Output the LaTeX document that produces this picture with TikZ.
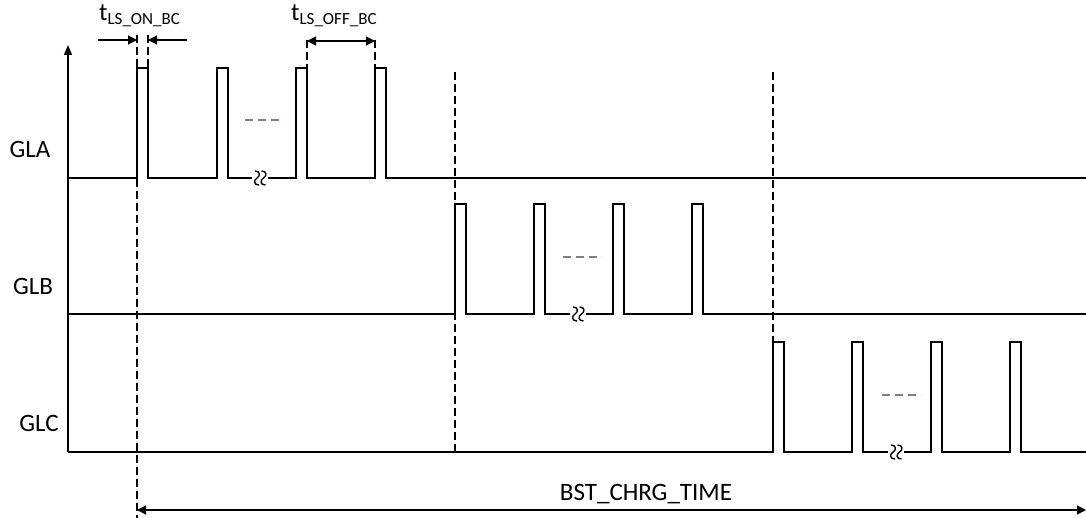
\documentclass[tikz,border=0pt]{standalone}
\usepackage{fontspec}
\setmainfont{Carlito}
\usetikzlibrary{arrows.meta}
\newcommand{\glwave}[7]{%
  % #1 base y, #2 high y, #3..#6 pulse x, #7 break centre
  \draw[wave] (68,#1) -- (#3,#1) -- (#3,#2) -- ++(11,0) -- (#3+11,#1)
    -- (#4,#1) -- (#4,#2) -- ++(11,0) -- (#4+11,#1) -- (#7-5,#1);
  \draw[wave] (#7+11,#1) -- (#5,#1) -- (#5,#2) -- ++(11,0) -- (#5+11,#1)
    -- (#6,#1) -- (#6,#2) -- ++(11,0) -- (#6+11,#1) -- (1086,#1);
  \draw[brk] (#7-2,171-178+#1) .. controls (#7+3.5,171-178+#1) and (#7+3.5,176-178+#1) .. (#7,#1)
    .. controls (#7-3.5,180-178+#1) and (#7-3.5,185-178+#1) .. (#7+2,185-178+#1);
  \draw[brk] (#7+4.5,171-178+#1) .. controls (#7+10,171-178+#1) and (#7+10,176-178+#1) .. (#7+6.5,#1)
    .. controls (#7+3,180-178+#1) and (#7+3,185-178+#1) .. (#7+8.5,185-178+#1);
}
\begin{document}
\begin{tikzpicture}[x=1pt,y=-1pt,
  wave/.style={line width=1.5pt,line join=miter,line cap=butt},
  brk/.style={line width=1.4pt},
  guide/.style={line width=1.1pt,dash pattern=on 8pt off 4pt},
  gdots/.style={line width=1.2pt,gray,dash pattern=on 8pt off 5pt},
  dimtip/.style={-{Triangle[length=9pt,width=9pt]},line width=1.1pt},
  lbl/.style={font=\fontsize{25}{28}\selectfont,inner sep=0pt},
  tlbl/.style={font=\fontsize{25}{28}\selectfont,inner sep=0pt,anchor=base west}]
\useasboundingbox (0,0) rectangle (1086,518);

% vertical axis
\coordinate (axb) at (68,452);
\coordinate (axt) at (68,45);
\draw[line width=1.3pt,-{Triangle[length=10pt,width=8pt]}] (axb) -- (axt);

% waveforms
\glwave{178}{68}{137}{217}{296}{375}{257}
\glwave{314}{204}{455}{534}{613}{692}{575}
\glwave{452}{342}{773}{852}{931}{1010}{893}

% gray ellipsis dashes
\draw[gdots] (245,120) -- (284,120);
\draw[gdots] (563,257) -- (602,257);
\draw[gdots] (882,395) -- (921,395);

% guide lines
\draw[guide] (137,35) -- (137,518);
\draw[guide] (148,35) -- (148,68);
\draw[guide] (307,40) -- (307,68);
\draw[guide] (375,40) -- (375,68);
\draw[guide] (455,72) -- (455,452);
\draw[guide] (773,72) -- (773,452);

% labels
\node[lbl] (gla) at (30,149) {GLA};
\node[lbl] (glb) at (33,286) {GLB};
\node[lbl] (glc) at (39,423) {GLC};

\node[tlbl] (ton) at (99,21) {t\textsubscript{\fontsize{17}{19}\selectfont LS\_ON\_BC}};
\node[tlbl] (toff) at (291,21) {t\textsubscript{\fontsize{17}{19}\selectfont LS\_OFF\_BC}};
\node[lbl] (bst) at (646,494) {BST\_CHRG\_TIME};

% dimension arrows
\coordinate (onL0) at (98,40);
\coordinate (onL1) at (137,40);
\coordinate (onR0) at (187,40);
\coordinate (onR1) at (148,40);
\draw[dimtip] (onL0) -- (onL1);
\draw[dimtip] (onR0) -- (onR1);
\coordinate (offA) at (307,41);
\coordinate (offB) at (375,41);
\draw[dimtip,{Triangle[length=9pt,width=9pt]}-{Triangle[length=9pt,width=9pt]}] (offA) -- (offB);
\coordinate (bA) at (137,510);
\coordinate (bB) at (1086,510);
\draw[dimtip,{Triangle[length=9pt,width=9pt]}-{Triangle[length=9pt,width=9pt]}] (bA) -- (bB);
\end{tikzpicture}
\end{document}
